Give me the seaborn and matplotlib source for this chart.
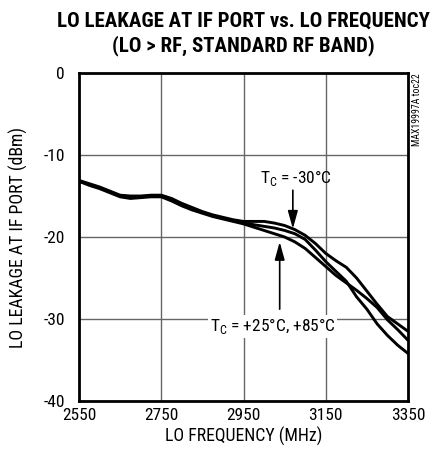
import matplotlib
matplotlib.use("Agg")
import matplotlib.pyplot as plt
import seaborn as sns
import pandas as pd

freq = [2550, 2575, 2600, 2625, 2650, 2675, 2700, 2725, 2750, 2775, 2800,
        2825, 2850, 2875, 2900, 2925, 2950, 2975, 3000, 3025, 3050, 3075,
        3100, 3125, 3150, 3175, 3200, 3225, 3250, 3275, 3300, 3325, 3350]

leak_m30 = [-13.1, -13.5, -13.9, -14.4, -14.9, -15.0, -15.0, -14.9, -14.9, -15.3, -15.9,
            -16.4, -16.9, -17.3, -17.6, -17.9, -18.1, -18.1, -18.1, -18.3, -18.6, -19.1,
            -19.8, -20.8, -22.0, -22.9, -23.7, -25.0, -26.6, -28.2, -29.7, -30.6, -31.5]

leak_p25 = [-13.2, -13.6, -14.0, -14.5, -15.0, -15.1, -15.1, -15.0, -15.0, -15.5, -16.1,
            -16.6, -17.0, -17.4, -17.7, -18.0, -18.3, -18.5, -18.7, -18.9, -19.2, -19.6,
            -20.3, -21.6, -23.0, -24.2, -25.4, -27.3, -28.8, -30.6, -32.0, -33.2, -34.2]

leak_p85 = [-13.2, -13.7, -14.1, -14.6, -15.1, -15.3, -15.2, -15.1, -15.1, -15.6, -16.2,
            -16.7, -17.1, -17.5, -17.8, -18.1, -18.4, -18.8, -19.2, -19.6, -20.0, -20.6,
            -21.4, -22.5, -23.6, -24.7, -25.6, -26.5, -27.5, -28.6, -30.1, -31.3, -32.6]

x_ticks = [2550, 2750, 2950, 3150, 3350]
y_ticks = [0, -10, -20, -30, -40]

df = pd.DataFrame({
    "freq": freq * 3,
    "leak": leak_m30 + leak_p25 + leak_p85,
    "temp": ["-30"] * len(freq) + ["+25"] * len(freq) + ["+85"] * len(freq),
})

sns.set_theme(style="white")
FONT = ['Roboto Condensed', 'DejaVu Sans']
plt.rcParams['font.family'] = FONT
plt.rcParams['mathtext.fontset'] = 'custom'
plt.rcParams['mathtext.rm'] = 'Roboto Condensed'
plt.rcParams['text.color'] = 'black'
plt.rcParams['axes.labelcolor'] = 'black'
plt.rcParams['xtick.color'] = 'black'
plt.rcParams['ytick.color'] = 'black'

fig = plt.figure(figsize=(4.33, 4.58), dpi=100)
ax = fig.add_axes([79 / 433, 1 - 401 / 458, (408 - 79) / 433, (401 - 73) / 458])

sns.lineplot(data=df, x="freq", y="leak", hue="temp", units="temp", estimator=None,
             palette=["black", "black", "black"], linewidth=2.1, legend=False, ax=ax,
             zorder=3)

ax.set_xlim(2550, 3350)
ax.set_ylim(-40, 0)
ax.set_xticks(x_ticks)
ax.set_yticks(y_ticks)
ax.set_xticklabels([str(v) for v in x_ticks], fontsize=12.5)
ax.set_yticklabels([str(v) for v in y_ticks], fontsize=12.5)
ax.tick_params(axis='both', length=0, colors='black')
ax.tick_params(axis='x', pad=5)
ax.tick_params(axis='y', pad=10)
ax.grid(True, color='#666666', linewidth=1.0)
for s in ax.spines.values():
    s.set_color('black')
    s.set_linewidth(2.0)
    s.set_visible(True)

ax.set_xlabel("LO FREQUENCY (MHz)", fontsize=12.8, color='black', labelpad=3)
ax.set_ylabel("LO LEAKAGE AT IF PORT (dBm)", fontsize=12.8, color='black', labelpad=11)

fig.text(243 / 433, 1 - 21 / 458, "LO LEAKAGE AT IF PORT vs. LO FREQUENCY",
         ha='center', va='center', fontsize=15, fontweight='bold', color='black')
fig.text(243 / 433, 1 - 46 / 458, "(LO > RF, STANDARD RF BAND)",
         ha='center', va='center', fontsize=15, fontweight='bold', color='black')

fig.text(417 / 433, 1 - 73 / 458, "MAX19997A toc22", rotation=90, ha='center', va='top',
         fontsize=7, color='black')

ax.text(3078, -12.8, r"T$_{\rm C}$ = -30°C", ha='center', va='center', fontsize=12.5, zorder=5)
ax.annotate("", xy=(3070, -19.0), xytext=(3070, -14.3),
            arrowprops=dict(arrowstyle='-|>,head_width=0.25,head_length=0.9',
                            color='black', lw=1.2, shrinkA=0, shrinkB=0), zorder=5)
ax.text(3021, -30.9, r"T$_{\rm C}$ = +25°C, +85°C", ha='center', va='center', fontsize=12.5,
        zorder=5, bbox=dict(facecolor='white', edgecolor='none', pad=1))
ax.annotate("", xy=(3038, -20.6), xytext=(3038, -28.8),
            arrowprops=dict(arrowstyle='-|>,head_width=0.25,head_length=0.9',
                            color='black', lw=1.2, shrinkA=0, shrinkB=0), zorder=5)

fig.savefig("out.png", dpi=100)
